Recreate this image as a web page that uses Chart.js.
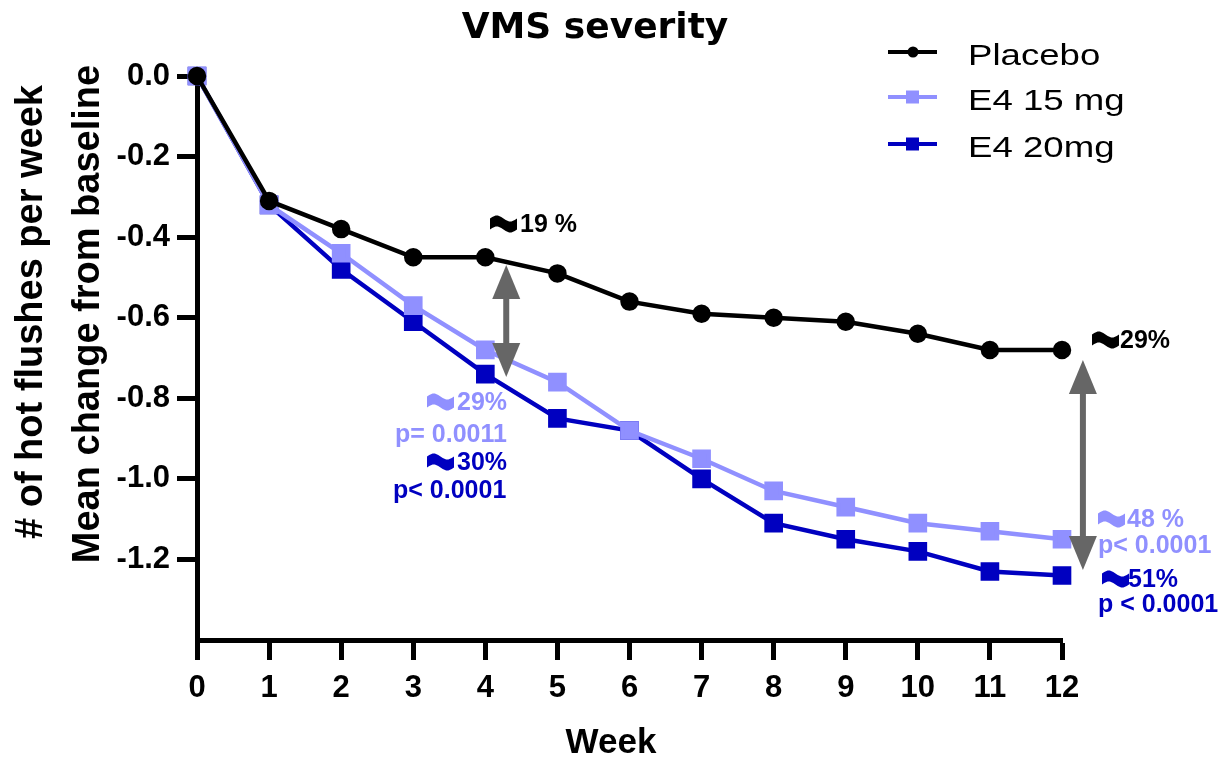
<!DOCTYPE html>
<html>
<head>
<meta charset="utf-8">
<script src="https://cdn.jsdelivr.net/npm/chart.js@4.4.0/dist/chart.umd.min.js"></script>
<style>
  html, body { margin:0; padding:0; background:#fff; }
  canvas { display:block; }
</style>
</head>
<body>
<canvas id="chart" width="1221" height="757"></canvas>
<script>
/* ── data ── */
var weeks   = [0, 1, 2, 3, 4, 5, 6, 7, 8, 9, 10, 11, 12];
var placebo = [0, -0.31, -0.38, -0.45, -0.45, -0.49, -0.56, -0.59, -0.60, -0.61, -0.64, -0.68, -0.68];
var e4_15mg = [0, -0.32, -0.44, -0.57, -0.68, -0.76, -0.88, -0.95, -1.03, -1.07, -1.11, -1.13, -1.15];
var e4_20mg = [0, -0.32, -0.48, -0.61, -0.74, -0.85, -0.88, -1.00, -1.11, -1.15, -1.18, -1.23, -1.24];
var seriesNames = ['Placebo', 'E4 15 mg', 'E4 20mg'];
var yTickValues = [0, -0.2, -0.4, -0.6, -0.8, -1.0, -1.2];
var xTickValues = weeks;
var chartTitle = 'VMS severity';
var xTitle = 'Week';
var yTitle = ['# of hot flushes per week', 'Mean change from baseline'];

var BLACK = '#000000', LIGHT = '#9090ff', DARK = '#0000c0', GREY = '#666666';

function pts(vals) {
  return weeks.map(function(w, i){ return {x:w, y:vals[i]}; });
}

// wavy filled "approx" glyph put before the percentages
function drawWave(ctx, x, yMid, w, color) {
  var n = 24, amp = 3, half = 5.5, i, t;
  ctx.save();
  ctx.fillStyle = color;
  ctx.beginPath();
  for (i = 0; i <= n; i++) {
    t = i / n;
    var py = yMid - Math.sin(t * 2 * Math.PI) * amp - half;
    if (i === 0) ctx.moveTo(x, py); else ctx.lineTo(x + t * w, py);
  }
  for (i = n; i >= 0; i--) {
    t = i / n;
    ctx.lineTo(x + t * w, yMid - Math.sin(t * 2 * Math.PI) * amp + half);
  }
  ctx.closePath();
  ctx.fill();
  ctx.restore();
}

function drawDoubleArrow(ctx, x, yTop, yBot) {
  var hw = 14, hh = 34;
  ctx.save();
  ctx.fillStyle = GREY;
  ctx.fillRect(x - 3, yTop + hh - 2, 6, (yBot - yTop) - 2 * hh + 4);
  ctx.beginPath();
  ctx.moveTo(x, yTop); ctx.lineTo(x + hw, yTop + hh); ctx.lineTo(x - hw, yTop + hh); ctx.closePath();
  ctx.fill();
  ctx.beginPath();
  ctx.moveTo(x, yBot); ctx.lineTo(x + hw, yBot - hh); ctx.lineTo(x - hw, yBot - hh); ctx.closePath();
  ctx.fill();
  ctx.restore();
}

// annotation labels: wave glyph x (or null), text, text x, baseline y, colour
var notes = [
  [490,  '19 %',       520,  232, BLACK],
  [427,  '29%',        457,  410, LIGHT],
  [null, 'p= 0.0011',  395,  442, LIGHT],
  [427,  '30%',        457,  470, DARK],
  [null, 'p< 0.0001',  393,  498, DARK],
  [1092, '29%',        1120, 348, BLACK],
  [1098, '48 %',       1127, 527, LIGHT],
  [null, 'p< 0.0001',  1098, 553, LIGHT],
  [1102, '51%',        1128, 587, DARK],
  [null, 'p < 0.0001', 1098, 612, DARK]
];

var decorPlugin = {
  id: 'decor',
  afterDraw: function(chart) {
    var ctx = chart.ctx;
    var xs = chart.scales.x, ys = chart.scales.y;

    // title
    ctx.save();
    ctx.fillStyle = BLACK;
    ctx.font = 'bold 36px "DejaVu Sans"';
    ctx.textAlign = 'center';
    ctx.textBaseline = 'alphabetic';
    ctx.fillText(chartTitle, 595, 38);

    // x title
    ctx.font = 'bold 35px "Liberation Sans", Arial, sans-serif';
    ctx.fillText(xTitle, 611, 753);

    // y title (two rotated lines)
    ctx.font = 'bold 38px "Liberation Sans", Arial, sans-serif';
    ctx.save(); ctx.translate(42, 312); ctx.rotate(-Math.PI / 2); ctx.fillText(yTitle[0], 0, 0); ctx.restore();
    ctx.save(); ctx.translate(99, 314); ctx.rotate(-Math.PI / 2); ctx.fillText(yTitle[1], 0, 0); ctx.restore();
    ctx.restore();

    // legend
    var rows = [52, 97, 144];
    chart.data.datasets.forEach(function(ds, i) {
      var y = rows[i];
      ctx.save();
      ctx.strokeStyle = ds.borderColor;
      ctx.lineWidth = 4;
      ctx.beginPath(); ctx.moveTo(888, y); ctx.lineTo(937, y); ctx.stroke();
      ctx.fillStyle = ds.borderColor;
      if (ds.pointStyle === 'circle') {
        ctx.beginPath(); ctx.arc(913, y, 5.5, 0, Math.PI * 2); ctx.fill();
      } else {
        ctx.fillRect(906, y - 6.5, 13, 13);
      }
      ctx.fillStyle = BLACK;
      ctx.font = '30px "Liberation Sans", Arial, sans-serif';
      ctx.textAlign = 'left';
      ctx.translate(968, y + 13);
      ctx.scale(1.22, 1);
      ctx.fillText(ds.label, 0, 0);
      ctx.restore();
    });

    // arrows
    drawDoubleArrow(ctx, xs.getPixelForValue(4.29), ys.getPixelForValue(-0.469), ys.getPixelForValue(-0.747));
    drawDoubleArrow(ctx, xs.getPixelForValue(12.29), ys.getPixelForValue(-0.705), ys.getPixelForValue(-1.226));

    // labels
    notes.forEach(function(n) {
      if (n[0] !== null) drawWave(ctx, n[0], n[3] - 8, 27, n[4]);
      ctx.save();
      ctx.fillStyle = n[4];
      ctx.font = 'bold 25px "Liberation Sans", Arial, sans-serif';
      ctx.textAlign = 'left';
      ctx.textBaseline = 'alphabetic';
      ctx.fillText(n[1], n[2], n[3]);
      ctx.restore();
    });
  }
};

var tickFont = {family:'"Liberation Sans", Arial, sans-serif', size:31, weight:'bold'};

new Chart(document.getElementById('chart'), {
  type: 'line',
  data: {
    datasets: [
      {label:seriesNames[0], data:pts(placebo), borderColor:BLACK, backgroundColor:BLACK,
       borderWidth:4.5, pointStyle:'circle', pointRadius:7, pointHoverRadius:7, clip:false},
      {label:seriesNames[1], data:pts(e4_15mg), borderColor:LIGHT, backgroundColor:LIGHT,
       borderWidth:4.5, pointStyle:'rect', pointRadius:10, pointHoverRadius:10, clip:false},
      {label:seriesNames[2], data:pts(e4_20mg), borderColor:DARK, backgroundColor:DARK,
       borderWidth:4.5, pointStyle:'rect', pointRadius:10, pointHoverRadius:10, clip:false}
    ]
  },
  options: {
    responsive:false,
    animation:false,
    layout:{padding:{top:76, right:159, bottom:0, left:0}},
    plugins:{legend:{display:false}, title:{display:false}, tooltip:{enabled:false}},
    elements:{line:{tension:0}},
    scales:{
      x:{
        type:'linear', min:0, max:12,
        afterBuildTicks:function(s){ s.ticks = xTickValues.map(function(v){ return {value:v}; }); },
        afterFit:function(s){ s.height = 117; },
        ticks:{color:BLACK, font:tickFont, padding:10, maxRotation:0, autoSkip:false},
        grid:{display:true, drawOnChartArea:false, drawTicks:true, tickLength:20, tickWidth:5, tickColor:BLACK},
        border:{display:true, color:BLACK, width:5}
      },
      y:{
        type:'linear', min:-1.4, max:0,
        afterBuildTicks:function(s){ s.ticks = yTickValues.map(function(v){ return {value:v}; }); },
        afterFit:function(s){ s.width = 197; },
        ticks:{color:BLACK, font:tickFont, padding:7,
               callback:function(v){ return (Math.abs(v) < 1e-9 ? 0 : v).toFixed(1); }},
        grid:{display:true, drawOnChartArea:false, drawTicks:true, tickLength:20, tickWidth:5, tickColor:BLACK},
        border:{display:true, color:BLACK, width:5}
      }
    }
  },
  plugins:[decorPlugin]
});
</script>
</body>
</html>
